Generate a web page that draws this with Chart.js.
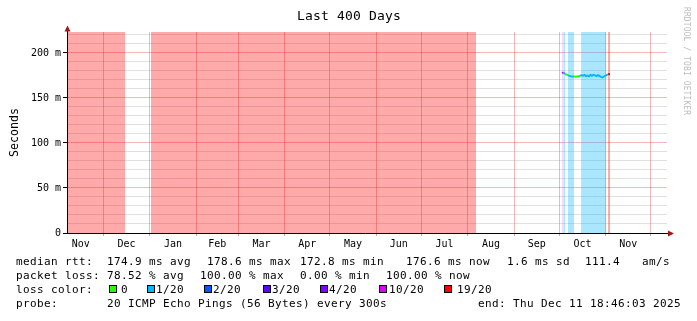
<!DOCTYPE html>
<html><head><meta charset="utf-8">
<script src="https://cdn.jsdelivr.net/npm/chart.js@4/dist/chart.umd.min.js"></script>
<style>html,body{margin:0;padding:0;background:#fff;}#wrap{width:697px;height:321px;}canvas{display:block;}</style>
</head><body><div id="wrap"><canvas id="c" width="697" height="321"></canvas></div>
<script>
const MONO = "'DejaVu Sans Mono', 'Liberation Mono', monospace";
const DAY = 86400000;
const endTime = Date.UTC(2025, 11, 11, 18, 46, 3);
const spanDays = 400;
const startTime = endTime - spanDays * DAY;
const toDay = s => (Date.parse(s + 'T00:00:00Z') - startTime) / DAY;

// x axis: month boundaries and labels
const monthStarts = ['2024-11-01','2024-12-01','2025-01-01','2025-02-01','2025-03-01','2025-04-01','2025-05-01','2025-06-01','2025-07-01','2025-08-01','2025-09-01','2025-10-01','2025-11-01','2025-12-01'];
const monthLabels = ['Nov','Dec','Jan','Feb','Mar','Apr','May','Jun','Jul','Aug','Sep','Oct','Nov'];

// y axis (milliseconds)
const yMax = 223.33;
const yTicks = [0,10,20,30,40,50,60,70,80,90,100,110,120,130,140,150,160,170,180,190,200,210,220];
const yLabelStep = 50;

// loss colour scale
const lossSteps  = [0, 1, 2, 3, 4, 10, 19];
const lossNames  = ['0','1/20','2/20','3/20','4/20','10/20','19/20'];
const lossColors = ['#26ff00','#00b8ff','#0059ff','#5e00ff','#7e00ff','#dd00ff','#ff0000'];

// loss shading periods (days since start of window) and loss per period (x/20)
const bandStart = [0.0, 56.0, 330.2, 330.9, 334.0, 342.7, 360.7];
const bandEnd   = [38.7, 272.7, 330.9, 332.0, 338.0, 359.3, 362.0];
const bandLoss  = [20, 20, 10, 1, 1, 1, 19];

// median rtt (ms) per day and loss (x/20)
const rttDay  = [330,331,332,333,334,335,336,337,338,339,340,341,342,343,344,345,346,347,348,349,350,351,352,353,354,355,356,357,358,359,360.7,362];
const rttMs   = [177.5,178.6,176.5,176.2,175.2,174.6,174.2,174.0,173.8,173.6,173.9,174.2,174.5,175.3,174.8,175.6,174.4,175.0,174.1,175.5,174.7,175.8,175.1,174.3,175.4,174.6,173.5,172.8,173.9,174.8,176.3,176.6];
const rttLoss = [10,1,0,0,1,1,1,1,0,0,0,0,1,1,1,1,1,1,1,1,1,1,1,1,1,1,1,1,1,1,19,19];

// legend texts
const rttStats  = ['median rtt:', '174.9 ms avg', '178.6 ms max', '172.8 ms min', '176.6 ms now', '1.6 ms sd', '111.4', 'am/s'];
const lossStats = ['packet loss:', '78.52 % avg', '100.00 % max', '0.00 % min', '100.00 % now'];
const probeText = ['probe:', '20 ICMP Echo Pings (56 Bytes) every 300s', 'end: Thu Dec 11 18:46:03 2025'];
const titleText = 'Last 400 Days';
const yTitle = 'Seconds';
const watermark = 'RRDTOOL / TOBI OETIKER';

function lossIndex(n){ let k = 0; for (let i = 0; i < lossSteps.length; i++) if (n >= lossSteps[i]) k = i; return k; }
const gridDays = monthStarts.map(toDay).filter(d => d >= 0 && d <= spanDays);
const labelDays = monthLabels.map((_, i) => (toDay(monthStarts[i]) + toDay(monthStarts[i + 1])) / 2);

const MAJOR = 'rgba(215,0,0,0.28)';
const MINOR = 'rgba(130,130,130,0.25)';

const datasets = [{
  label: 'median',
  data: rttDay.map((d, i) => ({x: d, y: rttMs[i]})),
  borderWidth: 2, pointRadius: 0, fill: false, borderColor: lossColors[1],
  segment: { borderColor: c => lossColors[lossIndex(rttLoss[c.p0DataIndex])] }
}];
bandStart.forEach((s, i) => {
  datasets.push({
    label: 'loss' + i,
    data: [{x: s, y: yMax}, {x: bandEnd[i], y: yMax}],
    borderWidth: 0, borderColor: 'transparent', pointRadius: 0,
    fill: 'origin', backgroundColor: lossColors[lossIndex(bandLoss[i])] + '55'
  });
});

const decor = {
  id: 'decor',
  afterDraw(chart) {
    const {ctx, chartArea: a} = chart;
    ctx.save();
    // axes
    ctx.strokeStyle = '#000'; ctx.lineWidth = 1;
    ctx.beginPath();
    ctx.moveTo(a.left + 0.5, a.top - 1); ctx.lineTo(a.left + 0.5, a.bottom + 1);
    ctx.moveTo(a.left - 4, a.bottom + 0.5); ctx.lineTo(a.right + 1, a.bottom + 0.5);
    ctx.stroke();
    ctx.fillStyle = '#a01818';
    ctx.beginPath();
    ctx.moveTo(a.left - 2.5, a.top - 0.5); ctx.lineTo(a.left + 0.5, a.top - 6.5); ctx.lineTo(a.left + 3.5, a.top - 0.5); ctx.closePath(); ctx.fill();
    ctx.beginPath();
    ctx.moveTo(a.right + 1, a.bottom - 2.5); ctx.lineTo(a.right + 7, a.bottom + 0.5); ctx.lineTo(a.right + 1, a.bottom + 3.5); ctx.closePath(); ctx.fill();

    // title
    ctx.fillStyle = '#000';
    ctx.font = '13px ' + MONO;
    if ('letterSpacing' in ctx) ctx.letterSpacing = '0.17px';
    ctx.textAlign = 'center'; ctx.textBaseline = 'alphabetic';
    ctx.fillText(titleText, 349, 20);

    // legend
    ctx.font = '11px ' + MONO;
    if ('letterSpacing' in ctx) ctx.letterSpacing = '0.38px';
    ctx.textAlign = 'left';
    const x1 = [16, 107, 207, 300, 406, 507, 585, 642];
    rttStats.forEach((t, i) => ctx.fillText(t, x1[i], 265));
    const x2 = [16, 107, 200, 300, 386];
    lossStats.forEach((t, i) => ctx.fillText(t, x2[i], 279));
    ctx.fillText('loss color:', 16, 293);
    const bx = [109, 147, 204, 263, 320, 379, 444];
    const lx = [121, 156, 213, 272, 329, 389, 457];
    lossNames.forEach((t, i) => {
      ctx.fillStyle = lossColors[i]; ctx.fillRect(bx[i], 285, 8, 8);
      ctx.strokeStyle = '#000'; ctx.strokeRect(bx[i] + 0.5, 285.5, 7, 7);
      ctx.fillStyle = '#000'; ctx.fillText(t, lx[i], 293);
    });
    const x4 = [16, 107, 478];
    probeText.forEach((t, i) => ctx.fillText(t, x4[i], 307));

    // watermark
    ctx.font = '8px ' + MONO;
    if ('letterSpacing' in ctx) ctx.letterSpacing = '0.1px';
    ctx.fillStyle = '#bdbdbd';
    ctx.translate(686.5, 7); ctx.rotate(Math.PI / 2);
    ctx.textBaseline = 'middle';
    ctx.fillText(watermark, 0, 0);
    ctx.restore();
  }
};

new Chart(document.getElementById('c'), {
  type: 'line',
  data: { datasets },
  plugins: [decor],
  options: {
    responsive: false, devicePixelRatio: 1, animation: false, events: [],
    layout: { padding: { top: 32, right: 30, left: 0, bottom: 0 } },
    plugins: { legend: { display: false }, tooltip: { enabled: false }, title: { display: false } },
    scales: {
      x: {
        type: 'linear', position: 'bottom', min: 0, max: spanDays,
        afterBuildTicks: s => { s.ticks = gridDays.map(v => ({value: v})); },
        afterFit: s => { s.height = 0; },
        ticks: { display: false, autoSkip: false },
        grid: { color: MAJOR, tickColor: 'rgba(0,0,0,0.3)', tickLength: 3, drawTicks: true },
        border: { display: false }
      },
      x2: {
        type: 'linear', position: 'bottom', min: 0, max: spanDays,
        afterBuildTicks: s => { s.ticks = labelDays.map(v => ({value: v})); },
        afterFit: s => { s.height = 88; },
        ticks: { autoSkip: false, maxRotation: 0, padding: 5.5, color: '#000', font: { family: MONO, size: 10 }, callback: (v, i) => monthLabels[i] },
        grid: { display: false, drawTicks: false },
        border: { display: false }
      },
      y: {
        type: 'linear', min: 0, max: yMax,
        afterBuildTicks: s => { s.ticks = yTicks.map(v => ({value: v})); },
        afterFit: s => { s.width = 67; },
        ticks: { autoSkip: false, padding: 2, color: '#000', font: { family: MONO, size: 10 },
          callback: v => v % yLabelStep === 0 ? (v === 0 ? '0' : v + ' m') : '' },
        grid: { color: c => (c.tick && c.tick.value % yLabelStep === 0) ? MAJOR : MINOR,
          tickColor: c => (c.tick && c.tick.value % yLabelStep === 0) ? '#000' : 'rgba(0,0,0,0)', tickLength: 4 },
        border: { display: false },
        title: { display: true, text: yTitle, color: '#000', font: { family: MONO, size: 11.6 }, padding: { top: 8, bottom: 0 } }
      }
    }
  }
});
</script></body></html>
